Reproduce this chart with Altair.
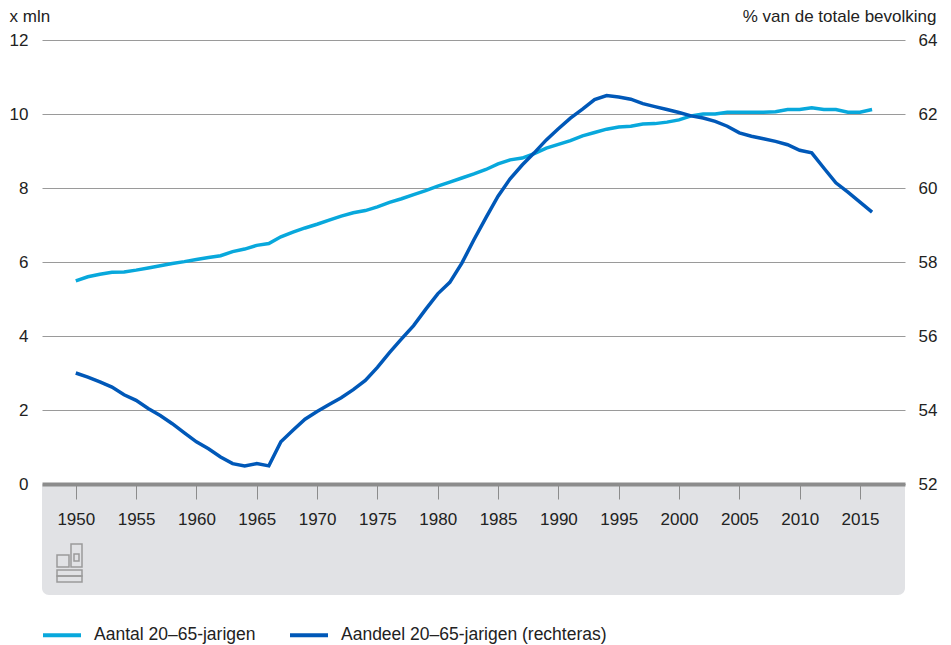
import altair as alt
import pandas as pd

years = list(range(1950, 2017))

aantal = [5.49, 5.60, 5.67, 5.72, 5.73, 5.78, 5.84, 5.90, 5.96, 6.01,
          6.07, 6.12, 6.17, 6.28, 6.35, 6.45, 6.50, 6.68, 6.81, 6.92,
          7.02, 7.13, 7.24, 7.33, 7.39, 7.49, 7.61, 7.71, 7.82, 7.93,
          8.05, 8.16, 8.27, 8.38, 8.50, 8.65, 8.76, 8.81, 8.93, 9.08,
          9.18, 9.28, 9.41, 9.50, 9.59, 9.65, 9.67, 9.73, 9.74, 9.78,
          9.84, 9.95, 10.00, 10.00, 10.05, 10.05, 10.05, 10.05, 10.06, 10.12,
          10.12, 10.17, 10.12, 10.12, 10.05, 10.05, 10.12]

aandeel = [55.00, 54.89, 54.76, 54.62, 54.41, 54.26, 54.04, 53.85, 53.63, 53.38,
           53.14, 52.95, 52.73, 52.55, 52.49, 52.55, 52.49, 53.14, 53.45, 53.75,
           53.96, 54.15, 54.33, 54.55, 54.80, 55.15, 55.55, 55.92, 56.28, 56.72,
           57.14, 57.45, 57.97, 58.60, 59.20, 59.78, 60.25, 60.62, 60.95, 61.30,
           61.60, 61.89, 62.13, 62.39, 62.50, 62.46, 62.40, 62.28, 62.20, 62.12,
           62.04, 61.95, 61.89, 61.80, 61.67, 61.49, 61.40, 61.33, 61.26, 61.17,
           61.02, 60.95, 60.54, 60.14, 59.89, 59.62, 59.35]

series_names = ["Aantal 20–65-jarigen", "Aandeel 20–65-jarigen (rechteras)"]
series_colors = ["#08A8DC", "#0058B8"]

x_ticks = list(range(1950, 2016, 5))
left_ticks = [0, 2, 4, 6, 8, 10, 12]
right_ticks = [52, 54, 56, 58, 60, 62, 64]

rows = []
for y, a, b in zip(years, aantal, aandeel):
    rows.append({"jaar": y, "serie": series_names[0], "waarde": a})
    rows.append({"jaar": y, "serie": series_names[1], "waarde": b})
df = pd.DataFrame(rows)

FONT = "Liberation Sans"
TXT = "#222222"
W, H = 863, 444

x_enc = alt.X(
    "jaar:Q",
    scale=alt.Scale(domain=[1947.2, 2018.73], nice=False, zero=False),
    axis=alt.Axis(
        values=x_ticks, format="d", title=None, grid=False,
        domainColor="#8c8c8c", domainWidth=4,
        tickColor="#8c8c8c", tickWidth=1, tickSize=15,
        labelFontSize=17, labelColor=TXT, labelFont=FONT, labelPadding=12,
        zindex=1,
    ),
)

color_enc = alt.Color(
    "serie:N",
    scale=alt.Scale(domain=series_names, range=series_colors),
    legend=alt.Legend(
        title=None, orient="none", legendX=-1, legendY=574, direction="horizontal",
        columns=2, symbolType="stroke", symbolStrokeWidth=4, symbolSize=1444,
        labelFontSize=17.5, labelFont=FONT, labelColor=TXT, labelOffset=11,
        columnPadding=26, labelLimit=400,
    ),
)

dummy = alt.Data(values=[{"a": 1}])

band = alt.Chart(dummy).mark_rect(
    color="#e1e2e5", cornerRadiusBottomLeft=7, cornerRadiusBottomRight=7
).encode(
    x=alt.value(0), x2=alt.value(W), y=alt.value(H), y2=alt.value(H + 111)
)

# small CBS logo outline in the grey band
logo_boxes = [
    (15, 515, 27, 527),
    (29, 504, 40, 527),
    (32, 514, 37, 521),
    (15, 530, 40, 536),
    (15, 536, 40, 542),
]
logo_layers = [
    alt.Chart(dummy).mark_rect(
        filled=False, stroke="#9a9a9a", strokeWidth=1.5
    ).encode(x=alt.value(a), y=alt.value(b), x2=alt.value(c), y2=alt.value(d))
    for a, b, c, d in logo_boxes
]

left = alt.Chart(df).transform_filter(
    alt.datum.serie == series_names[0]
).mark_line(strokeWidth=3.5).encode(
    x=x_enc,
    y=alt.Y(
        "waarde:Q",
        scale=alt.Scale(domain=[0, 12], nice=False, zero=False),
        axis=alt.Axis(
            orient="left", values=left_ticks, format="d", ticks=False, domain=False,
            grid=True, gridColor="#9a9a9a", gridWidth=1,
            labelFontSize=17, labelColor=TXT, labelFont=FONT, labelPadding=14,
            title="x mln", titleAngle=0, titleAlign="left", titleBaseline="alphabetic",
            titleX=-33, titleY=-19, titleFontSize=17, titleFontWeight="normal",
            titleColor=TXT, titleFont=FONT,
        ),
    ),
    color=color_enc,
)

right = alt.Chart(df).transform_filter(
    alt.datum.serie == series_names[1]
).mark_line(strokeWidth=3.5).encode(
    x=x_enc,
    y=alt.Y(
        "waarde:Q",
        scale=alt.Scale(domain=[52, 64], nice=False, zero=False),
        axis=alt.Axis(
            orient="right", values=right_ticks, format="d", ticks=False, domain=False,
            grid=False,
            labelFontSize=17, labelColor=TXT, labelFont=FONT, labelPadding=13,
            title="% van de totale bevolking", titleAngle=0, titleAlign="right",
            titleBaseline="alphabetic", titleX=31, titleY=-19, titleFontSize=17,
            titleFontWeight="normal", titleColor=TXT, titleFont=FONT,
        ),
    ),
    color=color_enc,
)

chart = alt.layer(band, *logo_layers, left, right).resolve_scale(
    y="independent"
).properties(
    width=W, height=H,
    autosize=alt.AutoSizeParams(type="none"),
    padding={"left": 34, "top": 32, "right": 38, "bottom": 163},
    background="white",
).configure_view(strokeWidth=0)

chart.save("out.html", embed_options={"renderer": "svg", "actions": False})
